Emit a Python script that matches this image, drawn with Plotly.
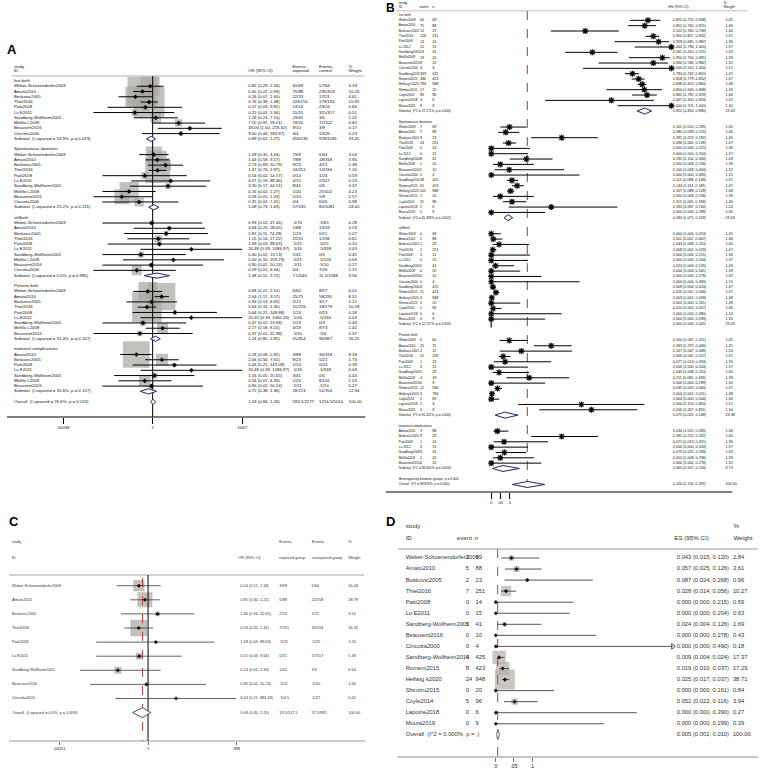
import math
import plotly.graph_objects as go

FONT = "Liberation Sans, Arial, sans-serif"
W, H = 763, 770

# ======================= Panel A data (OR, log scale) =======================
A_titles = ["live birth", "Spontaneous abortions", "stillbirth", "Preterm birth", "maternal complications"]
A_studies = ["Weber-Schoenedorfer2009", "Amato2010", "Boskovic2005", "Thiel2016", "Patti2008",
             "Lu E2011", "Sandberg-Wollheim2005", "Mellilo L2009", "Beauvent2016", "Cincotta2000"]
A_studies_pre = ["Weber-Schoenedorfer2009", "Amato2010", "Boskovic2005", "Thiel2016", "Patti2008",
                 "Lu E2011", "Sandberg-Wollheim2005", "Mellilo L2009", "Beauvent2016"]
A_studies_mat = ["Amato2010", "Boskovic2005", "Patti2008", "Lu E2011", "Sandberg-Wollheim2005",
                 "Mellilo L2009", "Beauvent2016"]

A_live_or = [0.82, 0.45, 0.26, 0.76, 0.57, 0.25, 1.28, 7.55, 18.00, 9.00]
A_live_lo = [0.29, 0.22, 0.07, 0.39, 0.03, 0.01, 0.23, 0.97, 1.50, 0.44]
A_live_hi = [2.34, 0.93, 1.00, 1.48, 9.81, 5.34, 7.10, 59.01, 216.62, 183.97]
A_live_exp = ["60/69", "75/88", "12/23", "226/251", "13/14", "15/15", "23/41", "19/20", "9/10", "4/4"]
A_live_ctl = ["57/64", "295/318", "17/21", "179/194", "23/24", "315/317", "3/5", "72/102", "3/9", "13/26"]
A_live_wt = [4.19, 10.26, 4.61, 10.92, 0.66, 0.51, 1.25, 0.65, 0.17, 0.23]

A_spon_or = [1.09, 1.44, 2.73, 1.47, 0.54, 4.07, 3.30, 0.16, 0.09, 0.35]
A_spon_lo = [0.35, 0.58, 0.69, 0.73, 0.02, 0.19, 0.17, 0.02, 0.01, 0.02]
A_spon_hi = [3.44, 3.57, 10.79, 2.97, 14.17, 88.46, 64.51, 1.27, 1.03, 7.41]
A_spon_exp = ["7/69", "7/88", "9/23", "24/251", "0/14", "0/15", "8/41", "1/20", "1/10", "0/4"]
A_spon_ctl = ["6/64", "18/318", "4/21", "13/194", "1/24", "2/317", "0/5", "25/102", "5/9", "6/26"]
A_spon_wt = [3.04, 3.90, 1.38, 7.20, 0.59, 0.13, 0.37, 4.23, 2.57, 0.98]

A_still_or = [0.93, 3.64, 2.87, 1.55, 1.69, 20.48, 0.40, 5.00, 0.90, 0.29]
A_still_lo = [0.02, 0.23, 0.11, 0.14, 0.03, 0.39, 0.02, 0.10, 0.02, 0.01]
A_still_hi = [47.46, 58.05, 74.28, 17.22, 89.63, 1086.97, 13.13, 259.29, 50.24, 6.04]
A_still_exp = [".5/70", "1/88", "1/23", "2/251", ".5/15", ".5/16", "1/41", ".5/21", ".5/11", "0/4"]
A_still_ctl = [".5/65", "1/318", "0/21", "1/194", ".5/25", ".5/318", "0/5", ".5/103", ".5/10", "7/26"]
A_still_wt = [0.28, 0.23, 0.27, 0.61, 0.20, 0.03, 0.45, 0.09, 0.27, 1.15]

A_pre_or = [0.68, 2.04, 0.93, 0.64, 5.64, 20.35, 0.47, 2.17, 0.37]
A_pre_lo = [0.22, 1.17, 0.13, 0.31, 0.21, 0.39, 0.02, 0.58, 0.01]
A_pre_hi = [2.10, 3.57, 6.65, 1.30, 148.88, 1060.26, 13.68, 8.15, 22.38]
A_pre_exp = ["6/60", "25/75", "2/12", "15/226", "1/13", ".5/16", "1/23", "4/19", ".5/10"]
A_pre_ctl = ["8/57", "58/295", "3/17", "18/179", "0/23", ".5/316", "0/3", "8/73", ".5/4"]
A_pre_wt = [4.01, 8.51, 1.12, 10.18, 0.18, 0.03, 0.44, 1.42, 0.37]

A_mat_or = [0.28, 2.06, 5.44, 20.48, 1.16, 0.54, 0.90]
A_mat_lo = [0.08, 0.56, 0.21, 0.39, 0.05, 0.07, 0.02]
A_mat_hi = [0.92, 7.61, 143.08, 1086.97, 25.65, 4.33, 50.24]
A_mat_exp = ["3/88", "8/23", "1/14", ".5/16", "3/41", "1/20", ".5/11"]
A_mat_ctl = ["36/318", "5/21", "0/24", ".5/318", "0/5", "8/102", ".5/10"]
A_mat_wt = [8.18, 1.73, 0.18, 0.03, 0.43, 1.53, 0.27]

A_sub_het = ["(I-squared = 54.9%, p = 0.019)", "(I-squared = 25.2%, p = 0.211)",
             "(I-squared = 0.0%, p = 0.985)", "(I-squared = 31.4%, p = 0.167)",
             "(I-squared = 35.6%, p = 0.157)"]
A_sub_or = [0.89, 1.09, 1.38, 1.24, 0.72]
A_sub_lo = [0.62, 0.73, 0.51, 0.85, 0.38]
A_sub_hi = [1.27, 1.63, 3.72, 1.81, 1.36]
A_sub_exp = ["456/535", "57/535", "7.5/540", "55/454", "18/213"]
A_sub_ctl = ["978/1081", "80/1081", "11.5/1088", "96/967", "51/700"]
A_sub_wt = [33.45, 24.40, 3.56, 26.25, 12.34]
A_all_het = "(I-squared = 26.6%, p = 0.053)"
A_all = [1.03, 0.84, 1.26]
A_all_exp, A_all_ctl, A_all_wt = "593.5/2277", "1216.5/5014", 100.00
A_tick_vals = [0.00094, 1, 1067]
A_tick_text = [".00094", "1", "1067"]

# ======================= Panel B data (proportions) =======================
B_titles = ["live birth", "Spontaneous abortions", "stillbirth", "Preterm birth", "maternal complications"]
B_studies = ["Weber2009", "Amato2010", "Boskovic2005", "Thiel2016", "Patti2008", "Lu 2012", "Sandberg2005",
             "Melillo2009", "Beauvent2016", "Cincotta2000", "Sandberg2011", "Romero2015", "Hellwig k2020",
             "Shimizu2015", "Coyle2014", "Lapoirie2018", "Moura2019"]
B_n = [69, 88, 23, 251, 14, 15, 41, 20, 10, 4, 425, 423, 948, 20, 96, 6, 9]
B_wt = [1.45, 1.46, 1.40, 1.47, 1.36, 1.37, 1.43, 1.39, 1.32, 1.15, 1.47, 1.47, 1.48, 1.39, 1.46, 1.24, 1.30]

B_live_ev = [60, 75, 12, 226, 13, 15, 23, 19, 9, 4, 333, 346, 794, 17, 83, 4, 9]
B_live_es = [0.870, 0.852, 0.522, 0.900, 0.929, 1.000, 0.561, 0.950, 0.900, 1.000, 0.784, 0.818, 0.838, 0.850, 0.865, 0.667, 1.000]
B_live_lo = [0.770, 0.760, 0.330, 0.857, 0.685, 0.796, 0.410, 0.764, 0.596, 0.510, 0.742, 0.779, 0.813, 0.640, 0.782, 0.300, 0.701]
B_live_hi = [0.938, 0.915, 0.708, 0.932, 0.987, 1.000, 0.701, 0.991, 0.982, 1.000, 0.820, 0.852, 0.860, 0.948, 0.919, 0.903, 1.000]

B_spon_ev = [7, 7, 9, 24, 0, 0, 8, 1, 1, 0, 49, 61, 101, 1, 11, 2, 0]
B_spon_es = [0.101, 0.080, 0.391, 0.096, 0.000, 0.000, 0.195, 0.050, 0.100, 0.000, 0.115, 0.144, 0.107, 0.050, 0.115, 0.333, 0.000]
B_spon_lo = [0.050, 0.039, 0.222, 0.065, 0.000, 0.000, 0.102, 0.009, 0.018, 0.000, 0.088, 0.114, 0.088, 0.009, 0.065, 0.097, 0.000]
B_spon_hi = [0.195, 0.155, 0.592, 0.138, 0.215, 0.204, 0.340, 0.236, 0.404, 0.490, 0.149, 0.181, 0.128, 0.236, 0.194, 0.700, 0.299]

B_still_ev = [0, 1, 1, 2, 0, 0, 1, 0, 0, 0, 4, 11, 3, 0, 1, 0, 0]
B_still_es = [0.000, 0.011, 0.043, 0.008, 0.000, 0.000, 0.024, 0.000, 0.000, 0.000, 0.009, 0.026, 0.003, 0.000, 0.010, 0.000, 0.000]
B_still_lo = [0.000, 0.002, 0.008, 0.002, 0.000, 0.000, 0.004, 0.000, 0.000, 0.000, 0.004, 0.015, 0.001, 0.000, 0.002, 0.000, 0.000]
B_still_hi = [0.053, 0.062, 0.210, 0.029, 0.215, 0.204, 0.126, 0.161, 0.278, 0.490, 0.024, 0.046, 0.009, 0.161, 0.057, 0.390, 0.299]

B_pre_studies = ["Weber2009", "Amato2010", "Boskovic2005", "Thiel2016", "Patti2008", "Lu 2012", "Sandberg2005",
                 "Melillo2009", "Beauvent2016", "Romero2015", "Hellwig k2020", "Coyle2014", "Lapoirie2018", "Moura2019"]
B_pre_ev = [6, 25, 2, 15, 1, 0, 1, 4, 0, 12, 3, 0, 2, 5]
B_pre_n = [60, 75, 12, 226, 13, 15, 23, 19, 9, 346, 794, 83, 4, 9]
B_pre_es = [0.100, 0.333, 0.167, 0.066, 0.077, 0.000, 0.043, 0.211, 0.000, 0.035, 0.004, 0.000, 0.500, 0.556]
B_pre_lo = [0.047, 0.237, 0.047, 0.041, 0.014, 0.000, 0.008, 0.085, 0.000, 0.020, 0.001, 0.000, 0.150, 0.267]
B_pre_hi = [0.201, 0.446, 0.448, 0.107, 0.333, 0.204, 0.210, 0.433, 0.299, 0.060, 0.011, 0.044, 0.850, 0.811]
B_pre_wt = [1.45, 1.45, 1.24, 1.47, 1.35, 1.37, 1.40, 1.39, 1.30, 1.47, 1.48, 1.46, 1.15, 1.30]

B_mat_studies = ["Amato2010", "Boskovic2005", "Patti2008", "Lu 2012", "Sandberg2005", "Melillo2009", "Beauvent2016"]
B_mat_ev = [3, 9, 1, 0, 3, 1, 0]
B_mat_n = [88, 23, 14, 15, 41, 20, 10]
B_mat_es = [0.034, 0.391, 0.071, 0.000, 0.073, 0.050, 0.000]
B_mat_lo = [0.012, 0.222, 0.013, 0.000, 0.025, 0.009, 0.000]
B_mat_hi = [0.095, 0.592, 0.315, 0.204, 0.194, 0.236, 0.278]
B_mat_wt = [1.46, 1.40, 1.36, 1.37, 1.43, 1.39, 1.32]

B_sub_het = ["(I^2 = 72.171%, p = 0.000)", "(I^2 = 45.358%, p = 0.002)", "(I^2 = 12.717%, p = 0.305)",
             "(I^2 = 91.452%, p = 0.000)", "(I^2 = 88.440%, p = 0.000)"]
B_sub_es = [0.852, 0.094, 0.000, 0.075, 0.065]
B_sub_lo = [0.810, 0.071, 0.000, 0.022, 0.007]
B_sub_hi = [0.890, 0.119, 0.001, 0.148, 0.156]
B_sub_wt = [23.63, 23.63, 23.63, 19.38, 9.73]
B_het_between = "Heterogeneity between groups: p = 0.000"
B_all_het = "(I^2 = 98.976%, p = 0.000);"
B_all = [0.200, 0.116, 0.297]
B_tick_vals = [0, 0.05, 0.1]
B_tick_text = ["0", ".05", ".1"]

# ======================= Panel C data (OR, log scale) =======================
C_studies = ["Weber-Schoenendorfer2009", "Amato2010", "Boskovic2005", "Thiel2016", "Patti2008", "Lu E2011",
             "Sandberg-Wollheim2005", "Beauvent2016", "Cincotta2000"]
C_or = [0.54, 0.81, 1.90, 0.53, 1.69, 0.55, 0.13, 0.90, 6.63]
C_lo = [0.12, 0.30, 0.16, 0.20, 0.03, 0.03, 0.01, 0.02, 0.11]
C_hi = [2.34, 2.21, 22.65, 1.41, 89.63, 9.64, 2.33, 50.24, 383.49]
C_exp = ["3/69", "5/88", "2/23", "7/251", ".5/15", "0/15", "1/41", ".5/11", ".5/4.5"]
C_unexp = ["5/64", "22/318", "1/21", "10/194", ".5/25", "17/317", "1/6", ".5/10", ".5/27"]
C_wt = [16.43, 28.79, 3.15, 36.32, 1.20, 5.38, 6.64, 1.66, 0.42]
C_all_het = "(I-squared = 0.0%, p = 0.659)"
C_all = [0.69, 0.35, 1.20]
C_all_exp, C_all_unexp = "19.5/517.5", "57.5/992"
C_tick_vals = [0.00251, 1, 398]
C_tick_text = [".00251", "1", "398"]

# ======================= Panel D data (proportions) =======================
D_studies = ["Weber-Schoenendorfer2009", "Amato2010", "Boskovic2005", "Thiel2016", "Patti2008", "Lu E2011",
             "Sandberg-Wollheim2005", "Beauvent2016", "Cincotta2000", "Sandberg-Wollheim2010", "Romero2015",
             "Hellwig k2020", "Shimizu2015", "Coyle2014", "Lapoirie2018", "Moura2019"]
D_event = [3, 5, 2, 7, 0, 0, 1, 0, 0, 4, 8, 24, 0, 5, 0, 0]
D_n = [69, 88, 23, 251, 14, 15, 41, 10, 4, 425, 423, 948, 20, 96, 6, 9]
D_es = [0.043, 0.057, 0.087, 0.028, 0.000, 0.000, 0.024, 0.000, 0.000, 0.009, 0.019, 0.025, 0.000, 0.052, 0.000, 0.000]
D_lo = [0.015, 0.025, 0.024, 0.014, 0.000, 0.000, 0.004, 0.000, 0.000, 0.004, 0.010, 0.017, 0.000, 0.022, 0.000, 0.000]
D_hi = [0.120, 0.126, 0.268, 0.056, 0.215, 0.204, 0.126, 0.278, 0.490, 0.024, 0.037, 0.037, 0.161, 0.116, 0.390, 0.299]
D_wt = [2.84, 3.61, 0.96, 10.27, 0.59, 0.63, 1.69, 0.43, 0.18, 17.37, 17.29, 38.71, 0.84, 3.94, 0.27, 0.39]
D_all_het = "(I^2 = 0.000%, p = .)"
D_all = [0.005, 0.002, 0.010]
D_tick_vals = [0, 0.05, 0.1]
D_tick_text = ["0", ".05", ".1"]


def fmt_ci(e, l, h, d):
    return f"{e:.{d}f} ({l:.{d}f}, {h:.{d}f})"


# ---------------- build row lists ----------------
A_sets = [
    (A_studies, A_live_or, A_live_lo, A_live_hi, A_live_exp, A_live_ctl, A_live_wt),
    (A_studies, A_spon_or, A_spon_lo, A_spon_hi, A_spon_exp, A_spon_ctl, A_spon_wt),
    (A_studies, A_still_or, A_still_lo, A_still_hi, A_still_exp, A_still_ctl, A_still_wt),
    (A_studies_pre, A_pre_or, A_pre_lo, A_pre_hi, A_pre_exp, A_pre_ctl, A_pre_wt),
    (A_studies_mat, A_mat_or, A_mat_lo, A_mat_hi, A_mat_exp, A_mat_ctl, A_mat_wt),
]
A_rows = []
for g, (nm, es, lo, hi, ex, ct, wt) in enumerate(A_sets):
    A_rows.append(dict(kind="head", label=A_titles[g]))
    for i in range(len(nm)):
        A_rows.append(dict(kind="study", label=nm[i], est=es[i], lo=lo[i], hi=hi[i], wt=wt[i],
                           cols=[fmt_ci(es[i], lo[i], hi[i], 2), ex[i], ct[i], f"{wt[i]:.2f}"]))
    A_rows.append(dict(kind="sub", label="Subtotal  " + A_sub_het[g], est=A_sub_or[g], lo=A_sub_lo[g], hi=A_sub_hi[g],
                       cols=[fmt_ci(A_sub_or[g], A_sub_lo[g], A_sub_hi[g], 2), A_sub_exp[g], A_sub_ctl[g],
                             f"{A_sub_wt[g]:.2f}"]))
    A_rows.append(dict(kind="sep", label="."))
A_rows.append(dict(kind="overall", label="Overall  " + A_all_het, est=A_all[0], lo=A_all[1], hi=A_all[2],
                   cols=[fmt_ci(*A_all, 2), A_all_exp, A_all_ctl, f"{A_all_wt:.2f}"]))

B_sets = [
    (B_studies, B_live_ev, B_n, B_live_es, B_live_lo, B_live_hi, B_wt),
    (B_studies, B_spon_ev, B_n, B_spon_es, B_spon_lo, B_spon_hi, B_wt),
    (B_studies, B_still_ev, B_n, B_still_es, B_still_lo, B_still_hi, B_wt),
    (B_pre_studies, B_pre_ev, B_pre_n, B_pre_es, B_pre_lo, B_pre_hi, B_pre_wt),
    (B_mat_studies, B_mat_ev, B_mat_n, B_mat_es, B_mat_lo, B_mat_hi, B_mat_wt),
]
B_rows = []
for g, (nm, ev, nn, es, lo, hi, wt) in enumerate(B_sets):
    B_rows.append(dict(kind="head", label=B_titles[g]))
    for i in range(len(nm)):
        B_rows.append(dict(kind="study", label=nm[i], est=es[i], lo=lo[i], hi=hi[i], wt=wt[i],
                           cols=[str(ev[i]), str(nn[i]), fmt_ci(es[i], lo[i], hi[i], 3), f"{wt[i]:.2f}"]))
    B_rows.append(dict(kind="sub", label="Subtotal  " + B_sub_het[g], est=B_sub_es[g], lo=B_sub_lo[g], hi=B_sub_hi[g],
                       cols=["", "", fmt_ci(B_sub_es[g], B_sub_lo[g], B_sub_hi[g], 3), f"{B_sub_wt[g]:.2f}"]))
    B_rows.append(dict(kind="sep", label=""))
B_rows.append(dict(kind="head", label=B_het_between))
B_rows.append(dict(kind="overall", label="Overall  " + B_all_het, est=B_all[0], lo=B_all[1], hi=B_all[2],
                   cols=["", "", fmt_ci(*B_all, 3), "100.00"]))

C_rows = []
for i in range(len(C_studies)):
    C_rows.append(dict(kind="study", label=C_studies[i], est=C_or[i], lo=C_lo[i], hi=C_hi[i], wt=C_wt[i],
                       cols=[fmt_ci(C_or[i], C_lo[i], C_hi[i], 2), C_exp[i], C_unexp[i], f"{C_wt[i]:.2f}"]))
C_rows.append(dict(kind="overall", label="Overall  " + C_all_het, est=C_all[0], lo=C_all[1], hi=C_all[2],
                   cols=[fmt_ci(*C_all, 2), C_all_exp, C_all_unexp, "100.00"]))

D_rows = []
for i in range(len(D_studies)):
    D_rows.append(dict(kind="study", label=D_studies[i], est=D_es[i], lo=D_lo[i], hi=D_hi[i], wt=D_wt[i],
                       cols=[str(D_event[i]), str(D_n[i]), fmt_ci(D_es[i], D_lo[i], D_hi[i], 3), f"{D_wt[i]:.2f}"]))
D_rows.append(dict(kind="overall", label="Overall  " + D_all_het, est=D_all[0], lo=D_all[1], hi=D_all[2],
                   cols=["", "", fmt_ci(*D_all, 3), "100.00"]))

# ---------------- layout geometry (pixels) ----------------
A_ys = [81 + 5.26 * i for i in range(len(A_rows))]
B_ys = [15 + 5.335 * i for i in range(len(B_rows))]
C_ys = [585.7 + 14.1 * i for i in range(len(C_rows))]
D_ys = [558 + 11.05 * i for i in range(len(D_rows))]

fig = go.Figure()


def add_text(x, ys, texts, size, color, pos="middle right"):
    if not ys:
        return
    fig.add_trace(go.Scatter(x=[x] * len(ys), y=ys, text=texts, mode="text", textposition=pos,
                             textfont=dict(family=FONT, size=size, color=color), xaxis="x", yaxis="y",
                             showlegend=False, hoverinfo="skip", cliponaxis=False))


def add_seg(xs, ys, color, width, xa="x", dash="solid"):
    fig.add_trace(go.Scatter(x=xs, y=ys, mode="lines", line=dict(color=color, width=width, dash=dash),
                             xaxis=xa, yaxis="y", showlegend=False, hoverinfo="skip"))


def draw_panel(rows, ys, xa, cfg):
    lab_y = [y for r, y in zip(rows, ys) if r["label"]]
    lab_t = [r["label"] for r in rows if r["label"]]
    add_text(cfg["name_x"], lab_y, lab_t, cfg.get("name_fs", cfg["fs"]), cfg["tc"])
    for c, cx in enumerate(cfg["col_x"]):
        cy, ct = [], []
        for r, y in zip(rows, ys):
            if "cols" in r and r["cols"][c]:
                cy.append(y)
                ct.append(r["cols"][c])
        add_text(cx, cy, ct, cfg["fs"], cfg["tc"])
    st = [(r, y) for r, y in zip(rows, ys) if r["kind"] == "study"]
    # boxes
    fig.add_trace(go.Scatter(x=[r["est"] for r, _ in st], y=[y for _, y in st], mode="markers",
                             marker=dict(symbol="square", size=[cfg["k"] * math.sqrt(r["wt"]) for r, _ in st],
                                         color=cfg["box"], line=dict(width=0)),
                             xaxis=xa, yaxis="y", showlegend=False, hoverinfo="skip"))
    # reference lines
    for ref in cfg["refs"]:
        add_seg([ref["x"], ref["x"]], [ref["y0"], ref["y1"]], ref["color"], ref["width"], xa, ref["dash"])
    # CIs
    xs, yy = [], []
    for r, y in st:
        xs += [r["lo"], r["hi"], None]
        yy += [y, y, None]
    add_seg(xs, yy, cfg["ci"], cfg["ciw"], xa)
    # arrows for truncated CIs
    if cfg.get("arrow_min") is not None:
        ar = [(r, y) for r, y in st if r["hi"] >= cfg["arrow_min"]]
        if ar:
            fig.add_trace(go.Scatter(x=[r["hi"] for r, _ in ar], y=[y for _, y in ar], mode="markers",
                                     marker=dict(symbol="triangle-right-open", size=5, color=cfg["ci"],
                                                 line=dict(width=1, color=cfg["ci"])),
                                     xaxis=xa, yaxis="y", showlegend=False, hoverinfo="skip", cliponaxis=False))
    # points
    fig.add_trace(go.Scatter(x=[r["est"] for r, _ in st], y=[y for _, y in st], mode="markers",
                             marker=cfg["pt"], xaxis=xa, yaxis="y", showlegend=False, hoverinfo="skip",
                             cliponaxis=False))
    # diamonds
    for r, y in zip(rows, ys):
        if r["kind"] in ("sub", "overall"):
            h = cfg["dh"]
            fig.add_trace(go.Scatter(x=[r["lo"], r["est"], r["hi"], r["est"], r["lo"]],
                                     y=[y, y - h, y, y + h, y], mode="lines", fill="toself",
                                     fillcolor="white", line=dict(color=cfg["dc"], width=cfg["dw"]),
                                     xaxis=xa, yaxis="y", showlegend=False, hoverinfo="skip"))


NAVY = "#23236e"
BOX = "#aaa6a2"
RED = "#b5322b"

# ---------------- Panel A ----------------
A_AX_Y = 417
add_text(0, [51], ["<b>A</b>"], 13, "#000")
add_text(7, [66.5, 70.8], ["study", "ID"], 4.3, "#111")
add_text(245, [70.8], ["OR (95% CI)"], 4.3, "#111")
add_text(290, [66.5, 70.8], ["Events,", "exposed"], 4.3, "#111")
add_text(317, [66.5, 70.8], ["Events,", "control"], 4.3, "#111")
add_text(347, [66.5, 70.8], ["%", "Weight"], 4.3, "#111")
add_seg([5, 363], [76, 76], "#9a9a9a", 0.8)
add_seg([0, 364], [A_AX_Y, A_AX_Y], "#000", 1)
draw_panel(A_rows, A_ys, "x2", dict(
    name_x=7, col_x=[245, 290, 317, 347], fs=4.3, tc="#111", k=9.3, box=BOX, ci="#000", ciw=1,
    pt=dict(symbol="diamond", size=3.6, color="#000"), dh=2.6, dc=NAVY, dw=1,
    refs=[dict(x=1, y0=76, y1=A_AX_Y, color="#000", width=1, dash="solid")]))

# ---------------- Panel B ----------------
B_AX_Y = 492
B_PX0, B_PPU = 492.0, 183.0
add_text(385, [8.5], ["<b>B</b>"], 12, "#000")
add_text(398, [3.6, 7.2], ["study", "ID"], 3.6, "#111")
add_text(419, [7.2], ["event"], 3.6, "#111")
add_text(432, [7.2], ["n"], 3.6, "#111")
add_text(672, [7.2], ["ES (95% CI)"], 3.6, "#111")
add_text(728, [3.6, 7.2], ["%", "Weight"], 3.6, "#111")
add_seg([396, 752], [10.8, 10.8], "#b8a79c", 0.8)
add_seg([385, 737], [B_AX_Y, B_AX_Y], "#000", 1)
draw_panel(B_rows, B_ys, "x3", dict(
    name_x=398, col_x=[419.5, 432, 676.5, 730], fs=3.7, name_fs=3.25, tc="#111", k=4.8, box="#b9b5b1",
    ci="#000", ciw=1,
    pt=dict(symbol="asterisk-open", size=5, color="#000", line=dict(width=1.1, color="#000")),
    dh=3.0, dc=NAVY, dw=1,
    refs=[dict(x=B_all[0], y0=11, y1=B_AX_Y, color=RED, width=1, dash="dash")]))

# ---------------- Panel C ----------------
C_AX_Y = 741
add_text(2, [523], ["<b>C</b>"], 13, "#000")
add_text(5, [541.7, 557.7], ["study", "ID"], 3.9, "#333")
add_text(235, [557.7], ["OR (95% CI)"], 3.9, "#333")
add_text(276.7, [541.7, 557.7], ["Events,", "exposed group"], 3.9, "#333")
add_text(310, [541.7, 557.7], ["Events,", "unexposed group"], 3.9, "#333")
add_text(346.7, [541.7, 557.7], ["%", "Weight"], 3.9, "#333")
add_seg([2, 363], [575, 575], "#d2d2d2", 1.8)
add_seg([2, 364], [C_AX_Y, C_AX_Y], "#9a9a9a", 1)
draw_panel(C_rows, C_ys, "x4", dict(
    name_x=5, col_x=[237, 276.7, 309.3, 346.7], fs=3.9, tc="#333", k=2.77, box="#a9a4a0", ci="#3a3a3a",
    ciw=0.8, pt=dict(symbol="diamond", size=3, color="#000"), dh=5, dc="#222", dw=0.8,
    refs=[dict(x=1, y0=575, y1=C_AX_Y, color="#000", width=1, dash="solid"),
          dict(x=C_all[0], y0=578, y1=C_AX_Y, color=RED, width=0.9, dash="dash")]))

# ---------------- Panel D ----------------
D_AX_Y = 757
D_PX0, D_PPU = 496.7, 367.0
add_text(385, [523], ["<b>D</b>"], 13, "#000")
add_text(405, [526.5, 538], ["study", "ID"], 6.2, "#333")
add_text(457, [538], ["event"], 6.2, "#333")
add_text(475, [538], ["n"], 6.2, "#333")
add_text(678, [538], ["ES (95% CI)"], 6.2, "#333")
add_text(738, [526.5, 538], ["%", "Weight"], 6.2, "#333")
add_seg([397, 763], [549, 549], "#d0d0d0", 2)
add_seg([397, 763], [D_AX_Y, D_AX_Y], "#c4c4c4", 2)
draw_panel(D_rows, D_ys, "x5", dict(
    name_x=405, col_x=[466, 476, 680.5, 737.5], fs=5.8, tc="#333", k=3.2, box="#b3aeaa", ci="#555",
    ciw=1, pt=dict(symbol="diamond", size=3.2, color="#111"), dh=5, dc="#555", dw=0.9,
    arrow_min=0.49,
    refs=[dict(x=D_all[0], y0=549, y1=D_AX_Y, color="#d0342c", width=1, dash="dash")]))


def forest_axis(kind, rng, dom_px, ax_y, tv, tt, fs, ticklen, tickcolor="#000"):
    return dict(type=kind, range=rng, domain=[dom_px[0] / W, dom_px[1] / W], anchor="free",
                position=1 - ax_y / H, tickvals=tv, ticktext=tt, ticks="outside", ticklen=ticklen,
                tickwidth=1, tickcolor=tickcolor, showline=False, showgrid=False, zeroline=False,
                tickfont=dict(family=FONT, size=fs, color="#111"), fixedrange=True)


fig.update_layout(
    width=W, height=H, margin=dict(l=0, r=0, t=0, b=0, pad=0),
    paper_bgcolor="white", plot_bgcolor="rgba(0,0,0,0)", showlegend=False, hovermode=False,
    xaxis=dict(range=[0, W], domain=[0, 1], visible=False, fixedrange=True),
    yaxis=dict(range=[H, 0], domain=[0, 1], visible=False, fixedrange=True),
    xaxis2=forest_axis("log", [math.log10(A_tick_vals[0]), math.log10(A_tick_vals[-1])], (57, 239),
                       A_AX_Y, A_tick_vals, A_tick_text, 4.3, 6),
    xaxis3=forest_axis("linear", [(485 - B_PX0) / B_PPU, (680 - B_PX0) / B_PPU], (485, 680),
                       B_AX_Y, B_tick_vals, B_tick_text, 4.3, 6),
    xaxis4=forest_axis("log", [math.log10(C_tick_vals[0]), math.log10(C_tick_vals[-1])], (53.3, 233.3),
                       C_AX_Y, C_tick_vals, C_tick_text, 3.9, 3, "#777"),
    xaxis5=forest_axis("linear", [(490 - D_PX0) / D_PPU, (677 - D_PX0) / D_PPU], (490, 677),
                       D_AX_Y, D_tick_vals, D_tick_text, 5, 4, "#777"),
)

fig.write_html("out.html", config={"displayModeBar": False},
               post_script="document.body.style.margin='0';document.body.style.overflow='hidden';")
